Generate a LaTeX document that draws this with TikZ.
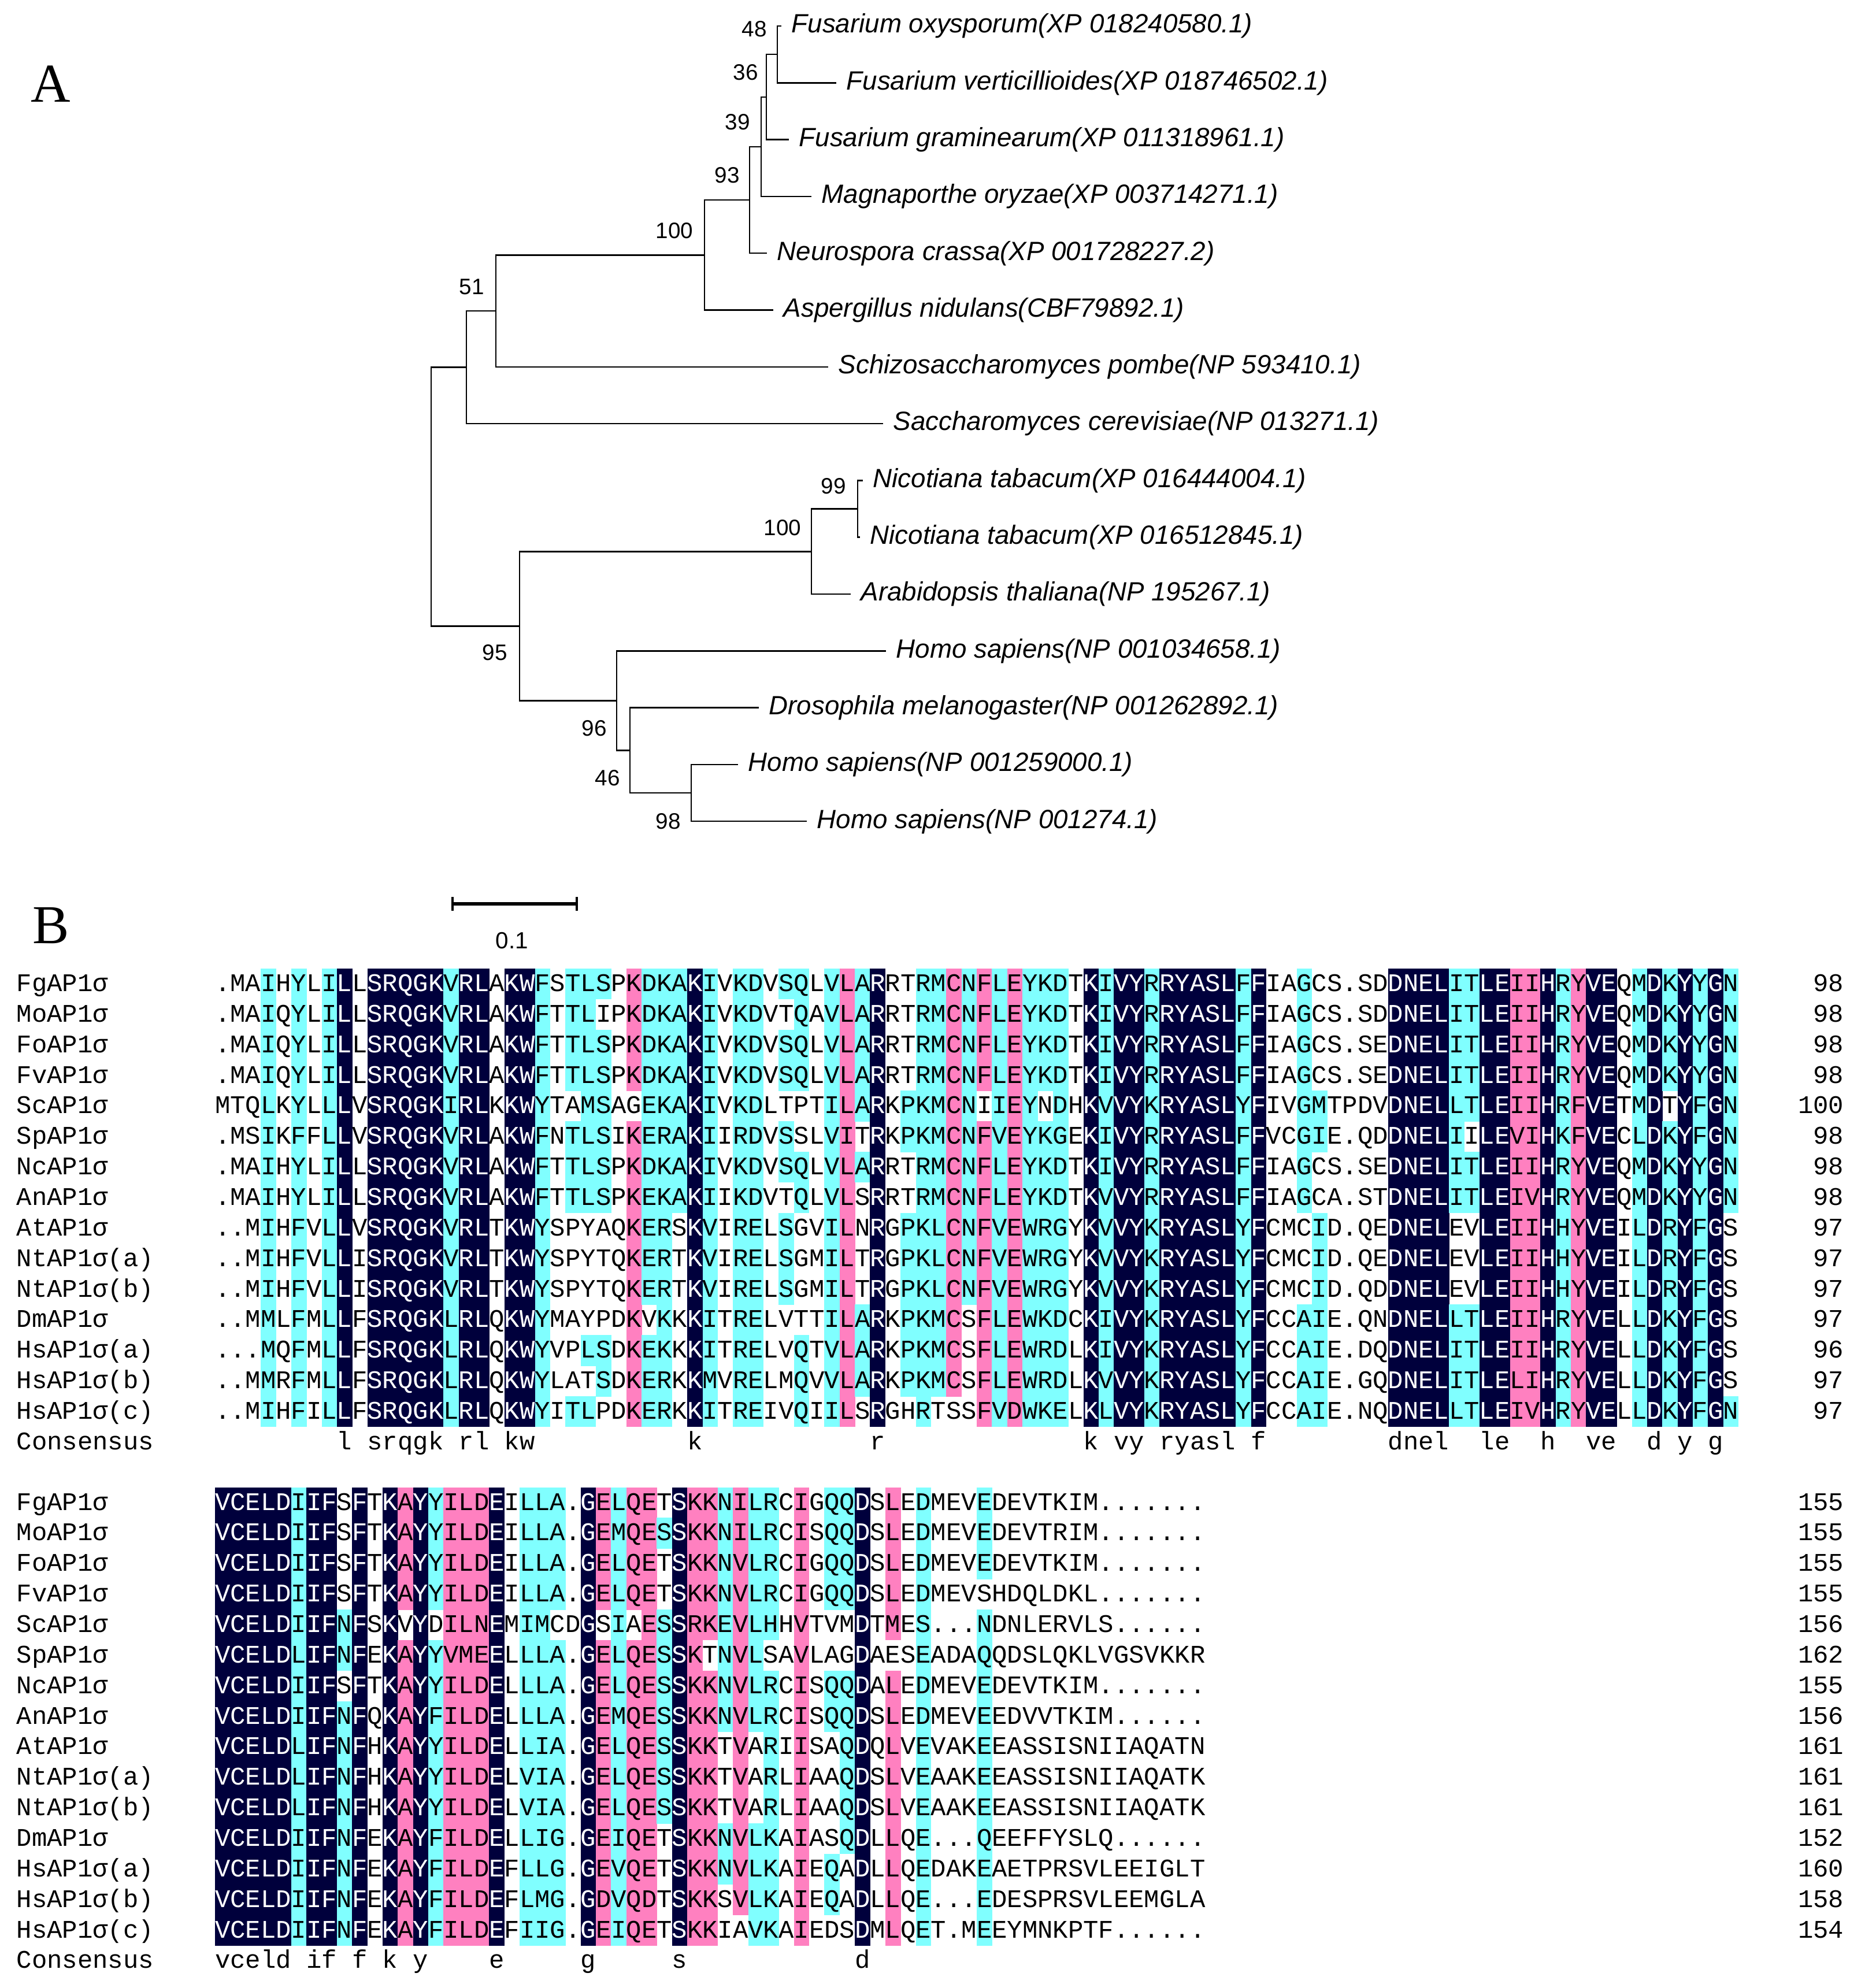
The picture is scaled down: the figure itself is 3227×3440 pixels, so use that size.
\documentclass[tikz,border=0pt]{standalone}
\usepackage{fontspec}
\usepackage{xcolor}
\usepackage{tikz}
\setmainfont{Liberation Sans}
\newfontfamily\monofam{Liberation Mono}
\newfontfamily\seriffam{Liberation Serif}

\definecolor{alnn}{RGB}{0,0,60}
\definecolor{alnp}{RGB}{255,128,192}
\definecolor{alnc}{RGB}{128,255,255}

\tikzset{
  leaf/.style={anchor=west, inner xsep=1.8mm, inner ysep=0pt, font=\itshape\fontsize{13}{15}\selectfont},
  boot/.style={inner sep=0pt, font=\fontsize{11}{13}\selectfont},
  branch/.style={line width=0.7pt, line cap=rect},
  panel/.style={inner sep=0pt, font=\seriffam\fontsize{27}{30}\selectfont},
  res/.style={anchor=base, inner sep=0pt, font=\monofam\fontsize{12.5}{14}\selectfont},
  seqname/.style={res, anchor=base west},
  seqlen/.style={res, anchor=base east},
}

% one shaded cell and one residue of the alignment
\newcommand\alncell[3]{\fill[aln#1] (#2,#3) rectangle ++(26.8,53.3);}
\newcommand\alnres[5]{\node[res, text=#5] (#1) at (#2,#3) {#4};}

\ExplSyntaxOn
\seq_new:N \l__aln_cols_seq
\seq_new:N \l__aln_rows_seq
\int_new:N \l__aln_c_int
\int_new:N \l__aln_r_int
\tl_new:N \l__aln_pat_tl
\tl_new:N \l__aln_code_tl
\tl_new:N \l__aln_x_tl
\tl_new:N \l__aln_y_tl
\tl_new:N \l__aln_name_tl
% #1 block id, #2 top y, #3 column shading codes, #4 residue rows
\NewDocumentCommand \alnblock { m m m m }
 {
  \seq_clear:N \l__aln_cols_seq
  \clist_map_inline:nn {#3}
   {
    \str_case:nnF {##1}
     {
      {W} { \seq_put_right:Nn \l__aln_cols_seq {wwwwwwwwwwwwwww} }
      {N} { \seq_put_right:Nn \l__aln_cols_seq {nnnnnnnnnnnnnnn} }
      {C} { \seq_put_right:Nn \l__aln_cols_seq {ccccccccccccccc} }
      {P} { \seq_put_right:Nn \l__aln_cols_seq {ppppppppppppppp} }
     }
     { \seq_put_right:Nn \l__aln_cols_seq {##1} }
   }
  \seq_set_from_clist:Nn \l__aln_rows_seq {#4}
  % shading and consensus
  \int_zero:N \l__aln_c_int
  \seq_map_inline:Nn \l__aln_cols_seq
   {
    \int_incr:N \l__aln_c_int
    \tl_set:Nx \l__aln_x_tl { \fp_eval:n { 372 + (\l__aln_c_int - 1) * 26.36 } }
    \int_zero:N \l__aln_r_int
    \tl_map_inline:nn {##1}
     {
      \int_incr:N \l__aln_r_int
      \str_if_eq:nnF {####1} {w}
       {
        \tl_set:Nx \l__aln_y_tl { \fp_eval:n { #2 + (\l__aln_r_int - 1) * 52.86 } }
        \alncell {####1} {\l__aln_x_tl} {\l__aln_y_tl}
       }
     }
    \str_if_eq:nnT {##1} {nnnnnnnnnnnnnnn}
     {
      \tl_set:Nx \l__aln_pat_tl { \seq_item:Nn \l__aln_rows_seq {1} }
      \tl_set:Nx \l__aln_code_tl { \str_lowercase:f { \str_item:Nn \l__aln_pat_tl { \l__aln_c_int } } }
      \tl_set:Nx \l__aln_x_tl { \fp_eval:n { 385.18 + (\l__aln_c_int - 1) * 26.36 } }
      \tl_set:Nx \l__aln_y_tl { \fp_eval:n { #2 + 15.5 * 52.86 + 13 } }
      \tl_set:Nx \l__aln_name_tl { con#1-\int_use:N \l__aln_c_int }
      \alnres {\l__aln_name_tl} {\l__aln_x_tl} {\l__aln_y_tl} {\l__aln_code_tl} {black}
     }
   }
  % residues
  \int_zero:N \l__aln_r_int
  \seq_map_inline:Nn \l__aln_rows_seq
   {
    \int_incr:N \l__aln_r_int
    \tl_set:Nx \l__aln_y_tl { \fp_eval:n { #2 + (\l__aln_r_int - 0.5) * 52.86 + 13 } }
    \int_zero:N \l__aln_c_int
    \tl_map_inline:nn {##1}
     {
      \int_incr:N \l__aln_c_int
      \tl_set:Nx \l__aln_x_tl { \fp_eval:n { 385.18 + (\l__aln_c_int - 1) * 26.36 } }
      \tl_set:Nx \l__aln_pat_tl { \seq_item:Nn \l__aln_cols_seq { \l__aln_c_int } }
      \tl_set:Nx \l__aln_code_tl { \str_item:Nn \l__aln_pat_tl { \l__aln_r_int } }
      \tl_set:Nx \l__aln_name_tl { res#1-\int_use:N \l__aln_r_int - \int_use:N \l__aln_c_int }
      \str_if_eq:VnTF \l__aln_code_tl {n}
       { \alnres {\l__aln_name_tl} {\l__aln_x_tl} {\l__aln_y_tl} {####1} {white} }
       { \alnres {\l__aln_name_tl} {\l__aln_x_tl} {\l__aln_y_tl} {####1} {black} }
     }
   }
 }
\ExplSyntaxOff

\begin{document}
\begin{tikzpicture}[x=0.1mm, y=-0.1mm]
    \fill[white] (0,0) rectangle (3227,3440);
    \useasboundingbox (0,0) rectangle (3227,3440);

    % Panel labels
    \node[panel] (pA) at (88,145) {A};
    \node[panel] (pB) at (88,1602) {B};

    % Leaves
    \node[leaf] (fox) at (1351,45.0) {Fusarium oxysporum(XP 018240580.1)};
    \node[leaf] (fve) at (1446,143.3) {Fusarium verticillioides(XP 018746502.1)};
    \node[leaf] (fgr) at (1364,241.6) {Fusarium graminearum(XP 011318961.1)};
    \node[leaf] (mor) at (1403,339.9) {Magnaporthe oryzae(XP 003714271.1)};
    \node[leaf] (ncr) at (1326,438.2) {Neurospora crassa(XP 001728227.2)};
    \node[leaf] (ani) at (1337,536.5) {Aspergillus nidulans(CBF79892.1)};
    \node[leaf] (spo) at (1432,634.8) {Schizosaccharomyces pombe(NP 593410.1)};
    \node[leaf] (sce) at (1527,733.1) {Saccharomyces cerevisiae(NP 013271.1)};
    \node[leaf] (nta) at (1492,831.4) {Nicotiana tabacum(XP 016444004.1)};
    \node[leaf] (ntb) at (1487,929.7) {Nicotiana tabacum(XP 016512845.1)};
    \node[leaf] (ath) at (1471,1028.0) {Arabidopsis thaliana(NP 195267.1)};
    \node[leaf] (hsa) at (1532,1126.3) {Homo sapiens(NP 001034658.1)};
    \node[leaf] (dme) at (1312,1224.6) {Drosophila melanogaster(NP 001262892.1)};
    \node[leaf] (hsb) at (1276,1322.9) {Homo sapiens(NP 001259000.1)};
    \node[leaf] (hsc) at (1395,1421.2) {Homo sapiens(NP 001274.1)};

    % Internal nodes
    \coordinate (c48) at (1345,94.2);
    \coordinate (c36) at (1326,167.9);
    \coordinate (c39) at (1317,253.9);
    \coordinate (c93) at (1297,346.0);
    \coordinate (c100a) at (1219,441.3);
    \coordinate (c51) at (858,538.0);
    \coordinate (cfun) at (807,635.6);
    \coordinate (croot) at (746,859.5);
    \coordinate (c99) at (1484,880.6);
    \coordinate (c100b) at (1404,954.3);
    \coordinate (c95) at (899,1083.3);
    \coordinate (c96) at (1067,1212.3);
    \coordinate (c46) at (1090,1298.3);
    \coordinate (c98) at (1196,1372.0);

    % Branches
    \draw[branch] (c48) |- (fox.west) (c48) |- (fve.west);
    \draw[branch] (c36) |- (c48) (c36) |- (fgr.west);
    \draw[branch] (c39) |- (c36) (c39) |- (mor.west);
    \draw[branch] (c93) |- (c39) (c93) |- (ncr.west);
    \draw[branch] (c100a) |- (c93) (c100a) |- (ani.west);
    \draw[branch] (c51) |- (c100a) (c51) |- (spo.west);
    \draw[branch] (cfun) |- (c51) (cfun) |- (sce.west);
    \draw[branch] (croot) |- (cfun) (croot) |- (c95);
    \draw[branch] (c95) |- (c100b) (c95) |- (c96);
    \draw[branch] (c100b) |- (c99) (c100b) |- (ath.west);
    \draw[branch] (c99) |- (nta.west) (c99) |- (ntb.west);
    \draw[branch] (c96) |- (hsa.west) (c96) |- (c46);
    \draw[branch] (c46) |- (dme.west) (c46) |- (c98);
    \draw[branch] (c98) |- (hsb.west) (c98) |- (hsc.west);

    % Bootstrap values
    \node[boot] (b48) at (1305,50) {48};
    \node[boot] (b36) at (1290,125) {36};
    \node[boot] (b39) at (1276,211) {39};
    \node[boot] (b93) at (1258,303) {93};
    \node[boot] (b100a) at (1167,399) {100};
    \node[boot] (b51) at (816,496) {51};
    \node[boot] (b99) at (1442,841) {99};
    \node[boot] (b100b) at (1354,913) {100};
    \node[boot] (b95) at (856,1129) {95};
    \node[boot] (b96) at (1028,1260) {96};
    \node[boot] (b46) at (1051,1346) {46};
    \node[boot] (b98) at (1156,1421) {98};

    % Scale bar
    \coordinate (sb0) at (783,1564);
    \coordinate (sb1) at (998,1564);
    \draw[line width=1.5pt] (sb0) -- (sb1);
    \draw[line width=1.1pt] (sb0) ++(0,-12) -- ++(0,24);
    \draw[line width=1.1pt] (sb1) ++(0,-12) -- ++(0,24);
    \node[boot, font=\fontsize{11.5}{13}\selectfont] (sbl) at (886,1628) {0.1};

    % Sequence names and lengths
    \foreach \nm [count=\i] in {FgAP1σ,MoAP1σ,FoAP1σ,FvAP1σ,ScAP1σ,SpAP1σ,NcAP1σ,AnAP1σ,AtAP1σ,{NtAP1σ(a)},{NtAP1σ(b)},DmAP1σ,{HsAP1σ(a)},{HsAP1σ(b)},{HsAP1σ(c)}} {
        \node[seqname] (nameA\i) at (28,{1689+(\i-0.5)*52.86}) {\nm};
        \node[seqname] (nameB\i) at (28,{2586.6+(\i-0.5)*52.86}) {\nm};
    }
    \foreach \len [count=\i] in {98,98,98,98,100,98,98,98,97,97,97,97,96,97,97}
        \node[seqlen] (lenA\i) at (3191,{1689+(\i-0.5)*52.86}) {\len};
    \foreach \len [count=\i] in {155,155,155,155,156,162,155,156,161,161,161,152,160,158,154}
        \node[seqlen] (lenB\i) at (3191,{2586.6+(\i-0.5)*52.86}) {\len};
    \node[seqname] (consA) at (28,2508.3) {Consensus};
    \node[seqname] (consB) at (28,3405.9) {Consensus};

    % Alignment, residues 1-100
    \alnblock{A}{1676}{
      W,W,W,C,W,C,W,C,N,W,
      N,N,N,N,N,C,N,N,W,N,
      N,C,W,ccccwcccwwwwwwc,ccccccccwwwwcwc,cwccccccwwwwccw,W,ppppwpppppppppp,cccccccccccwccc,C,
      ccccccccwwwwwww,N,C,W,C,C,W,cwccwccwcccwwww,ccccwwccwwwwccc,W,
      C,P,cccccwcwwwwcccw,N,W,wwwwccwwccccccw,C,ccccccccccccccw,ppppppppppppppw,cccccccccccwwww,
      ppppwpppppppppp,C,P,C,ccccwcccccccccc,C,W,N,C,N,
      N,C,N,N,N,N,N,C,N,W,
      W,ccccccccwwwcccc,wwwwccwwccccccc,W,W,W,W,N,N,N,
      N,ccccccccwwwcccc,cccccwccwwwcccc,N,N,P,P,N,C,P,
      N,N,W,C,N,ccccwcccccccccc,N,C,N,ccccccccwwwwwwc}{
      .MAIHYLILLSRQGKVRLAKWFSTLSPKDKAKIVKDVSQLVLARRTRMCNFLEYKDTKIVYRRYASLFFIAGCS.SDDNELITLEIIHRYVEQMDKYYGN,
      .MAIQYLILLSRQGKVRLAKWFTTLIPKDKAKIVKDVTQAVLARRTRMCNFLEYKDTKIVYRRYASLFFIAGCS.SDDNELITLEIIHRYVEQMDKYYGN,
      .MAIQYLILLSRQGKVRLAKWFTTLSPKDKAKIVKDVSQLVLARRTRMCNFLEYKDTKIVYRRYASLFFIAGCS.SEDNELITLEIIHRYVEQMDKYYGN,
      .MAIQYLILLSRQGKVRLAKWFTTLSPKDKAKIVKDVSQLVLARRTRMCNFLEYKDTKIVYRRYASLFFIAGCS.SEDNELITLEIIHRYVEQMDKYYGN,
      MTQLKYLLLVSRQGKIRLKKWYTAMSAGEKAKIVKDLTPTILARKPKMCNIIEYNDHKVVYKRYASLYFIVGMTPDVDNELLTLEIIHRFVETMDTYFGN,
      .MSIKFFLLVSRQGKVRLAKWFNTLSIKERAKIIRDVSSLVITRKPKMCNFVEYKGEKIVYRRYASLFFVCGIE.QDDNELIILEVIHKFVECLDKYFGN,
      .MAIHYLILLSRQGKVRLAKWFTTLSPKDKAKIVKDVSQLVLARRTRMCNFLEYKDTKIVYRRYASLFFIAGCS.SEDNELITLEIIHRYVEQMDKYYGN,
      .MAIHYLILLSRQGKVRLAKWFTTLSPKEKAKIIKDVTQLVLSRRTRMCNFLEYKDTKVVYRRYASLFFIAGCA.STDNELITLEIVHRYVEQMDKYYGN,
      ..MIHFVLLVSRQGKVRLTKWYSPYAQKERSKVIRELSGVILNRGPKLCNFVEWRGYKVVYKRYASLYFCMCID.QEDNELEVLEIIHHYVEILDRYFGS,
      ..MIHFVLLISRQGKVRLTKWYSPYTQKERTKVIRELSGMILTRGPKLCNFVEWRGYKVVYKRYASLYFCMCID.QEDNELEVLEIIHHYVEILDRYFGS,
      ..MIHFVLLISRQGKVRLTKWYSPYTQKERTKVIRELSGMILTRGPKLCNFVEWRGYKVVYKRYASLYFCMCID.QDDNELEVLEIIHHYVEILDRYFGS,
      ..MMLFMLLFSRQGKLRLQKWYMAYPDKVKKKITRELVTTILARKPKMCSFLEWKDCKIVYKRYASLYFCCAIE.QNDNELLTLEIIHRYVELLDKYFGS,
      ...MQFMLLFSRQGKLRLQKWYVPLSDKEKKKITRELVQTVLARKPKMCSFLEWRDLKIVYKRYASLYFCCAIE.DQDNELITLEIIHRYVELLDKYFGS,
      ..MMRFMLLFSRQGKLRLQKWYLATSDKERKKMVRELMQVVLARKPKMCSFLEWRDLKVVYKRYASLYFCCAIE.GQDNELITLELIHRYVELLDKYFGS,
      ..MIHFILLFSRQGKLRLQKWYITLPDKERKKITREIVQIILSRGHRTSSFVDWKELKLVYKRYASLYFCCAIE.NQDNELLTLEIVHRYVELLDKYFGN}

    % Alignment, residues 101-162
    \alnblock{B}{2573.6}{
      N,N,N,N,N,C,N,N,wwwwccwcccccccc,N,
      W,N,ppppwpppppppppp,N,ccccwcccccccccc,P,P,P,N,W,
      C,C,ccccwcccccccccc,W,N,ppppwpppppppppp,C,ppppwpppppppppp,P,wcwwcccccccwwww,
      N,P,pppppwppppppppp,ccccccccwwwccww,ppppppppppppppw,ccccccccwwwcccc,cccccwccccccccc,W,P,W,
      ccccwwccwwwwccw,ccccwwccccccwww,N,W,pppppwppppppppp,W,C,W,W,W,
      cccwccccccccccc,W,W,W,W,W,W,W,W,W,
      W,W,W,W,W}{
      VCELDIIFSFTKAYYILDEILLA.GELQETSKKNILRCIGQQDSLEDMEVEDEVTKIM.......,
      VCELDIIFSFTKAYYILDEILLA.GEMQESSKKNILRCISQQDSLEDMEVEDEVTRIM.......,
      VCELDIIFSFTKAYYILDEILLA.GELQETSKKNVLRCIGQQDSLEDMEVEDEVTKIM.......,
      VCELDIIFSFTKAYYILDEILLA.GELQETSKKNVLRCIGQQDSLEDMEVSHDQLDKL.......,
      VCELDIIFNFSKVYDILNEMIMCDGSIAESSRKEVLHHVTVMDTMES...NDNLERVLS......,
      VCELDLIFNFEKAYYVMEELLLA.GELQESSKTNVLSAVLAGDAESEADAQQDSLQKLVGSVKKR,
      VCELDIIFSFTKAYYILDELLLA.GELQESSKKNVLRCISQQDALEDMEVEDEVTKIM.......,
      VCELDIIFNFQKAYFILDELLLA.GEMQESSKKNVLRCISQQDSLEDMEVEEDVVTKIM......,
      VCELDLIFNFHKAYYILDELLIA.GELQESSKKTVARIISAQDQLVEVAKEEASSISNIIAQATN,
      VCELDLIFNFHKAYYILDELVIA.GELQESSKKTVARLIAAQDSLVEAAKEEASSISNIIAQATK,
      VCELDLIFNFHKAYYILDELVIA.GELQESSKKTVARLIAAQDSLVEAAKEEASSISNIIAQATK,
      VCELDIIFNFEKAYFILDELLIG.GEIQETSKKNVLKAIASQDLLQE...QEEFFYSLQ......,
      VCELDIIFNFEKAYFILDEFLLG.GEVQETSKKNVLKAIEQADLLQEDAKEAETPRSVLEEIGLT,
      VCELDIIFNFEKAYFILDEFLMG.GDVQDTSKKSVLKAIEQADLLQE...EDESPRSVLEEMGLA,
      VCELDIIFNFEKAYFILDEFIIG.GEIQETSKKIAVKAIEDSDMLQET.MEEYMNKPTF......}
\end{tikzpicture}
\end{document}
